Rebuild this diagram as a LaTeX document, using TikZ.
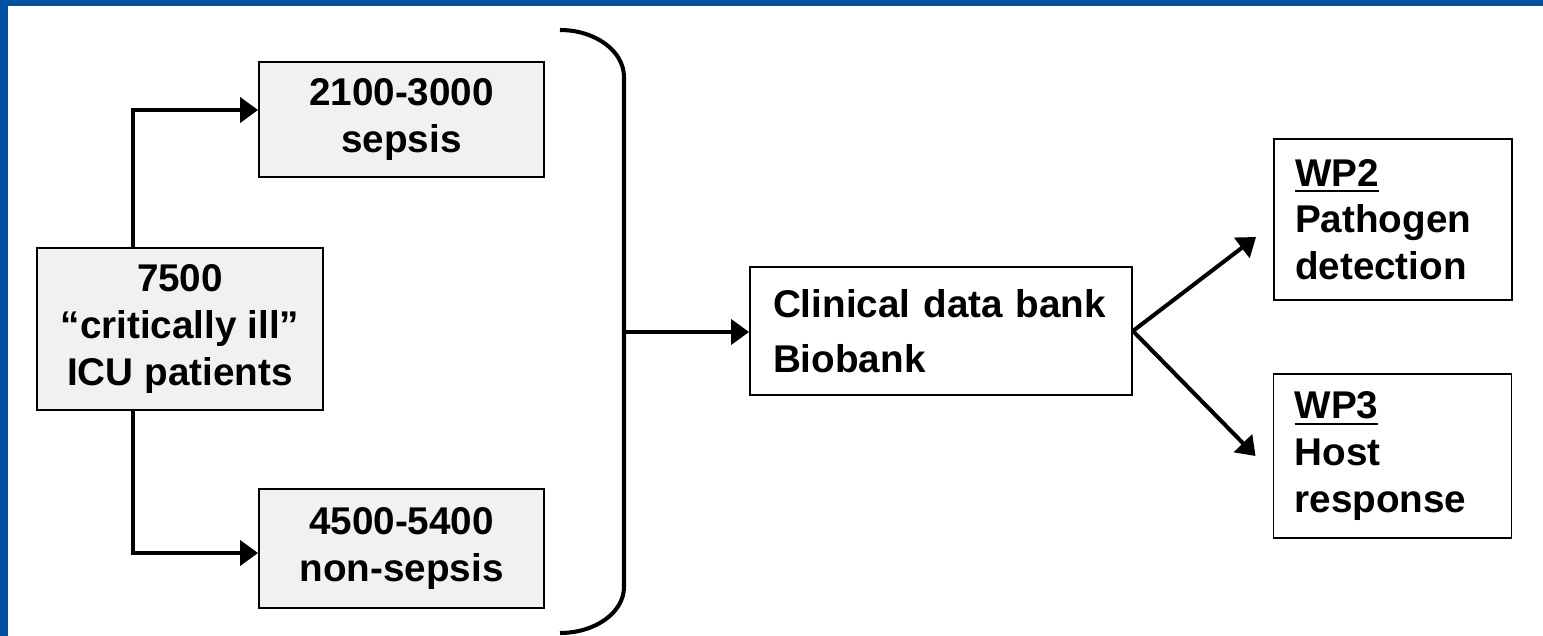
\documentclass[tikz,border=0pt]{standalone}
\usepackage{fontspec}
\setmainfont{Liberation Sans}
\usepackage{tikz}
\usetikzlibrary{arrows.meta}
\usetikzlibrary{calc}

\definecolor{bandblue}{RGB}{0,82,160}
\definecolor{boxgrey}{RGB}{241,241,241}

\newcommand{\wpul}[1]{\setbox0\hbox{#1}\rlap{\rule[-3.4pt]{\wd0}{1.1pt}}\box0}

\tikzset{
  box/.style={draw,rectangle,line width=1.1pt,inner sep=0pt,font=\bfseries\fontsize{22}{26.5}\selectfont},
  greybox/.style={box,fill=boxgrey,align=center},
  wpbox/.style={box,fill=white,align=left,inner xsep=0.42cm,text width=3.92cm},
  conn/.style={line width=2.3pt,-{Triangle[length=0.36cm,width=0.5cm]}}
}

\begin{document}
\begin{tikzpicture}[x=0.02cm,y=-0.02cm]

  \useasboundingbox (0,0) rectangle (1543,636);
  \fill [white] (0,0) rectangle (1543,636);
  \fill [bandblue] (0,0) rectangle (1543,6);
  \fill [bandblue] (0,0) rectangle (8,636);

  \node [greybox,minimum width=5.72cm,minimum height=3.24cm] (patients) at (180,329) {7500\\“critically ill”\\ICU patients};
  \node [greybox,minimum width=5.7cm,minimum height=2.3cm] (sepsis) at (401.5,119.5) {2100-3000\\sepsis};
  \node [greybox,minimum width=5.7cm,minimum height=2.38cm] (nonsepsis) at (401.5,548.5) {4500-5400\\non-sepsis};

  \node [box,fill=white,align=left,inner xsep=0.46cm,text width=6.72cm,minimum height=2.56cm] (biobank) at (941,331) {Clinical data bank\\[4.7pt]Biobank};

  \node [wpbox,minimum height=3.22cm] (wp2) at (1393,219.5) {\wpul{WP2}\\Pathogen\\detection};
  \node [wpbox,minimum height=3.28cm] (wp3) at (1392.5,456) {\wpul{WP3}\\Host\\response};

  % bracket
  \draw [line width=2.3pt] (560,30) arc [start angle=90,end angle=0,x radius=1.28cm,y radius=0.94cm]
    -- (624,587) arc [start angle=0,end angle=-90,x radius=1.28cm,y radius=0.92cm];
  \coordinate (join) at (624,332);

  \draw [conn] ([xshift=-0.94cm]patients.north) |- ([yshift=0.19cm]sepsis.west);
  \draw [conn] ([xshift=-0.94cm]patients.south) |- ([yshift=-0.09cm]nonsepsis.west);
  \draw [conn] (join) -- (join -| biobank.west);
  \draw [conn] (biobank.east) -- ([xshift=-0.34cm,yshift=-0.35cm]wp2.west);
  \draw [conn] (biobank.east) -- ([xshift=-0.34cm]wp3.west);
\end{tikzpicture}
\end{document}
